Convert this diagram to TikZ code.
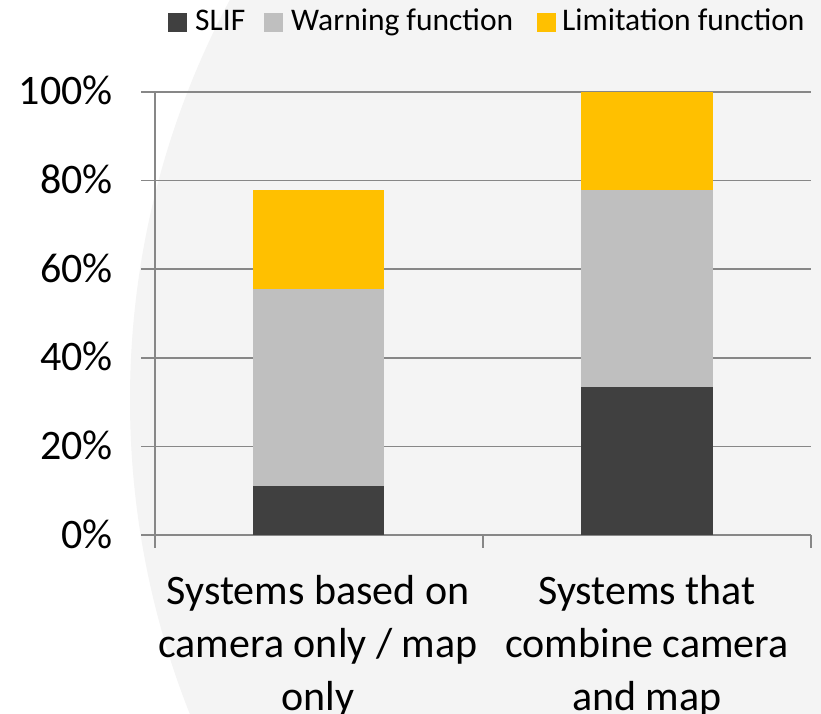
\documentclass[tikz,border=0pt]{standalone}
\usepackage{fontspec}
\setmainfont{Carlito}
\definecolor{slif}{HTML}{404040}
\definecolor{warn}{HTML}{BFBFBF}
\definecolor{limf}{HTML}{FFC000}
\definecolor{grid}{HTML}{878787}
\definecolor{wm}{HTML}{F4F4F4}
\begin{document}
\begin{tikzpicture}[x=1pt,y=-1pt,
  gridline/.style={draw=grid,line width=1.6pt},
  barseg/.style={draw=none},
  ticklab/.style={anchor=base east,inner sep=0pt,font=\fontsize{42}{50}\selectfont},
  catlab/.style={anchor=base,inner sep=0pt,align=center,font=\fontsize{42}{53}\selectfont},
  legtext/.style={anchor=base west,inner sep=0pt,font=\fontsize{31.5}{36}\selectfont},
  legbox/.style={draw=none,minimum size=19pt,inner sep=0pt,anchor=north west}]
\useasboundingbox (0,0) rectangle (821,714);
\begin{scope}
\clip (0,0) rectangle (821,714);
\fill[white] (0,0) rectangle (821,714);
\fill[wm] (980,400) circle[radius=850];
\end{scope}
% axes and gridlines
\foreach \v/\lab in {0/0\%,20/20\%,40/40\%,60/60\%,80/80\%,100/100\%}{
  \pgfmathsetmacro{\yy}{535-4.43*\v}
  \coordinate (gl\v) at (141,\yy);
  \coordinate (gr\v) at (811,\yy);
  \draw[gridline] (gl\v) -- (gr\v);
  \node[ticklab] (t\v) at (113,\yy+13) {\lab};
}
\coordinate (axtop) at (155,92);
\coordinate (axbot) at (155,548);
\draw[gridline] (axtop) -- (axbot);
\coordinate (tkma) at (483,535);
\coordinate (tkmb) at (483,548);
\coordinate (tkra) at (811,535);
\coordinate (tkrb) at (811,548);
\draw[gridline] (tkma) -- (tkmb);
\draw[gridline] (tkra) -- (tkrb);
% bars
\fill[slif] (253,535) rectangle (384,485.8);
\fill[warn] (253,485.8) rectangle (384,288.9);
\fill[limf] (253,288.9) rectangle (384,190.4);
\fill[slif] (581,535) rectangle (713,387.3);
\fill[warn] (581,387.3) rectangle (713,190.4);
\fill[limf] (581,190.4) rectangle (713,92);
% category labels
\node[catlab] (c1) at (318,710) {Systems based on\\camera only / map\\only};
\node[catlab] (c2) at (647,710) {Systems that\\combine camera\\and map};
% legend
\node[legbox,fill=slif] (k1) at (168,13) {};
\node[legtext] (l1) at (195,31) {SLIF};
\node[legbox,fill=warn] (k2) at (264,13) {};
\node[legtext] (l2) at (291,31) {Warning function};
\node[legbox,fill=limf] (k3) at (537,13) {};
\node[legtext] (l3) at (562,31) {Limitation function};
\end{tikzpicture}
\end{document}
